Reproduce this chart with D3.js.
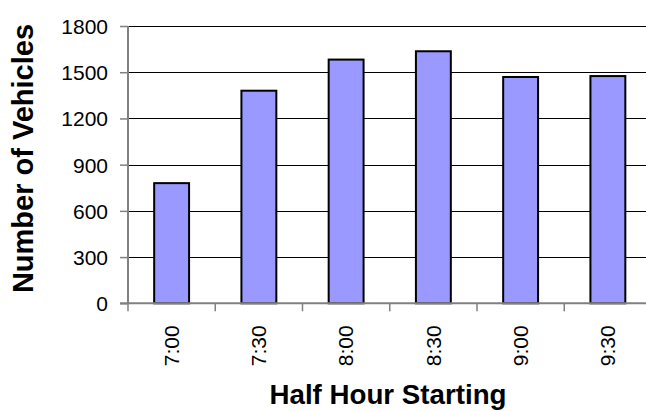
<!DOCTYPE html>
<html>
<head>
<meta charset="utf-8">
<script src="https://cdn.jsdelivr.net/npm/d3@7"></script>
<style>
  body { margin: 0; background: #fff; }
  svg { display: block; font-family: "Liberation Sans", Arial, sans-serif; }
</style>
</head>
<body>
<svg id="chart" width="646" height="411"></svg>
<script>
"use strict";

// half hour starting times and vehicle counts
let halfHours = ['7:00', '7:30', '8:00', '8:30', '9:00', '9:30'];
let vehicles = [780, 1380, 1582, 1636, 1469, 1475];
let yTicks = [0, 300, 600, 900, 1200, 1500, 1800];

(function () {
  let svg = d3.select('#chart');

  let left = 128, right = 651.5, top = 26, bottom = 303.3;

  let xScale = d3.scaleBand()
    .domain(halfHours)
    .range([left, right])
    .paddingInner(0.6)
    .paddingOuter(0.3);

  let yScale = d3.scaleLinear()
    .domain([0, 1800])
    .range([bottom, top]);

  // gridlines
  svg.append('g')
    .selectAll('line')
    .data(yTicks.filter(d => d > 0))
    .enter()
    .append('line')
    .attr('x1', left)
    .attr('x2', right)
    .attr('y1', d => Math.round(yScale(d)) + 0.5)
    .attr('y2', d => Math.round(yScale(d)) + 0.5)
    .style('stroke', '#000')
    .style('stroke-width', 1);

  // bars
  svg.append('g')
    .selectAll('rect')
    .data(vehicles)
    .enter()
    .append('rect')
    .attr('x', (d, i) => xScale(halfHours[i]))
    .attr('y', d => yScale(d))
    .attr('width', xScale.bandwidth())
    .attr('height', d => bottom - yScale(d))
    .style('fill', '#9999ff')
    .style('stroke', '#000')
    .style('stroke-width', 2);

  // y axis
  let yAxis = d3.axisLeft(yScale)
    .tickValues(yTicks)
    .tickFormat(d3.format('d'))
    .tickSize(8)
    .tickPadding(12);

  let yG = svg.append('g')
    .attr('transform', 'translate(' + left + ',0)')
    .call(yAxis);
  yG.select('.domain').remove();
  yG.selectAll('.tick line').style('stroke', '#808080').style('stroke-width', 1.5);
  yG.selectAll('.tick text')
    .style('font-size', '21px')
    .style('fill', '#000')
    .attr('dy', '0.35em');

  // x axis, ticks sit between bands
  let step = xScale.step();
  let boundaries = d3.range(halfHours.length + 1).map(i => left + i * step);

  svg.append('g')
    .selectAll('line')
    .data(boundaries)
    .enter()
    .append('line')
    .attr('x1', d => d)
    .attr('x2', d => d)
    .attr('y1', bottom)
    .attr('y2', bottom + 8)
    .style('stroke', '#808080')
    .style('stroke-width', 1.5);

  svg.append('g')
    .selectAll('text')
    .data(halfHours)
    .enter()
    .append('text')
    .attr('transform', d => 'translate(' + (xScale(d) + xScale.bandwidth() / 2) + ',' + (bottom + 22) + ') rotate(-90)')
    .attr('dy', '0.35em')
    .attr('text-anchor', 'end')
    .style('font-size', '21px')
    .text(d => d);

  // axis lines
  svg.append('line')
    .attr('x1', left).attr('x2', left)
    .attr('y1', top).attr('y2', bottom)
    .style('stroke', '#808080')
    .style('stroke-width', 2);

  svg.append('line')
    .attr('x1', left - 8).attr('x2', right)
    .attr('y1', bottom).attr('y2', bottom)
    .style('stroke', '#808080')
    .style('stroke-width', 2);

  // titles
  svg.append('text')
    .attr('x', 388)
    .attr('y', 404)
    .attr('text-anchor', 'middle')
    .attr('textLength', 237)
    .attr('lengthAdjust', 'spacingAndGlyphs')
    .style('font-size', '27px')
    .style('font-weight', 'bold')
    .text('Half Hour Starting');

  svg.append('text')
    .attr('transform', 'translate(33,158.5) rotate(-90)')
    .attr('text-anchor', 'middle')
    .style('font-size', '29px')
    .style('font-weight', 'bold')
    .text('Number of Vehicles');
})();
</script>
</body>
</html>
